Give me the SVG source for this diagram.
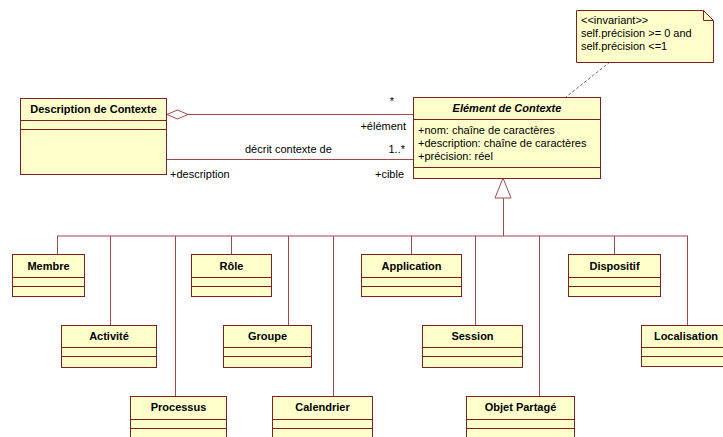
<svg xmlns="http://www.w3.org/2000/svg" width="723" height="437" viewBox="0 0 723 437">
<style>
.box{fill:#FFFFCB;stroke:#7F1F1F;stroke-width:1}
.sep{stroke:#7F1F1F;stroke-width:1}
.ln{fill:none;stroke:#A04848;stroke-width:1}
.t{font-family:"Liberation Sans",Arial,sans-serif;font-size:11px;fill:#000}
.b{font-family:"Liberation Sans",Arial,sans-serif;font-size:11px;font-weight:bold;fill:#000;text-anchor:middle}
.bi{font-style:italic}
.r{text-anchor:end}
</style>
<rect width="723" height="437" fill="#fff"/>
<g id="connectors">
<line class="ln" x1="188" y1="114.5" x2="413" y2="114.5"/>
<polygon points="167,114.5 177.5,110 188,114.5 177.5,119" fill="#fff" stroke="#A04848"/>
<line class="ln" x1="167" y1="159.5" x2="413" y2="159.5"/>
<line x1="610" y1="62" x2="566" y2="97" stroke="#6E6E6E" stroke-dasharray="3,2"/>
<polygon points="503,178 495,198 511,198" fill="#fff" stroke="#A04848"/>
<line class="ln" x1="503.5" y1="198" x2="503.5" y2="236"/>
<line class="ln" x1="57" y1="236" x2="688" y2="236"/>
<path class="ln" d="M57.5,236V254 M110.5,236V325 M175.5,236V396 M231.5,236V254 M288.5,236V325 M333.5,236V396 M411.5,236V254 M475.5,236V325 M539.5,236V396 M614.5,236V254 M687.5,236V325"/>
<text class="t" x="392" y="105" text-anchor="middle">*</text>
<text class="t r" x="406" y="130">+élément</text>
<text class="t" x="245" y="153">décrit contexte de</text>
<text class="t r" x="405" y="153">1..*</text>
<text class="t" x="170" y="178">+description</text>
<text class="t r" x="404" y="178">+cible</text>
</g>
<g id="note">
<path d="M576.5,10.5H703.5L713.5,20.5V62.5H576.5Z" class="box"/>
<path d="M703.5,10.5V20.5H713.5" fill="none" class="sep"/>
<text class="t" x="581" y="24">&lt;&lt;invariant&gt;&gt;</text>
<text class="t" x="581" y="37">self.précision &gt;= 0 and</text>
<text class="t" x="581" y="50">self.précision &lt;=1</text>
</g>
<g id="description-de-contexte">
<rect class="box" x="20.5" y="98.5" width="146" height="76"/>
<path class="sep" d="M20.5,120.5H166.5M20.5,129.5H166.5"/>
<text class="b" x="93.5" y="113">Description de Contexte</text>
</g>
<g id="element-de-contexte">
<rect class="box" x="413.5" y="97.5" width="187" height="81"/>
<path class="sep" d="M413.5,119.5H600.5M413.5,167.5H600.5"/>
<text class="b bi" x="507" y="112">Elément de Contexte</text>
<text class="t" x="418" y="134">+nom: chaîne de caractères</text>
<text class="t" x="418" y="147">+description: chaîne de caractères</text>
<text class="t" x="418" y="160">+précision: réel</text>
</g>
<g id="membre"><rect class="box" x="12.5" y="254.5" width="72" height="42"/><path class="sep" d="M12.5,277.5H84.5M12.5,286.5H84.5"/><text class="b" x="48.5" y="270">Membre</text></g>
<g id="role"><rect class="box" x="191.5" y="254.5" width="80" height="42"/><path class="sep" d="M191.5,277.5H271.5M191.5,286.5H271.5"/><text class="b" x="231.5" y="270">Rôle</text></g>
<g id="application"><rect class="box" x="361.5" y="254.5" width="100" height="42"/><path class="sep" d="M361.5,277.5H461.5M361.5,286.5H461.5"/><text class="b" x="411.5" y="270">Application</text></g>
<g id="dispositif"><rect class="box" x="568.5" y="254.5" width="92" height="42"/><path class="sep" d="M568.5,277.5H660.5M568.5,286.5H660.5"/><text class="b" x="614.5" y="270">Dispositif</text></g>
<g id="activite"><rect class="box" x="61.5" y="325.5" width="95" height="42"/><path class="sep" d="M61.5,347.5H156.5M61.5,356.5H156.5"/><text class="b" x="109" y="340">Activité</text></g>
<g id="groupe"><rect class="box" x="223.5" y="325.5" width="88" height="42"/><path class="sep" d="M223.5,347.5H311.5M223.5,356.5H311.5"/><text class="b" x="267.5" y="340">Groupe</text></g>
<g id="session"><rect class="box" x="422.5" y="325.5" width="100" height="42"/><path class="sep" d="M422.5,347.5H522.5M422.5,356.5H522.5"/><text class="b" x="472.5" y="340">Session</text></g>
<g id="localisation"><rect class="box" x="641.5" y="325.5" width="90" height="41"/><path class="sep" d="M641.5,347.5H731.5M641.5,356.5H731.5"/><text class="b" x="686" y="340">Localisation</text></g>
<g id="processus"><rect class="box" x="130.5" y="396.5" width="96" height="42"/><path class="sep" d="M130.5,419.5H226.5M130.5,428.5H226.5"/><text class="b" x="178.5" y="411">Processus</text></g>
<g id="calendrier"><rect class="box" x="272.5" y="396.5" width="100" height="42"/><path class="sep" d="M272.5,419.5H372.5M272.5,428.5H372.5"/><text class="b" x="322.5" y="411">Calendrier</text></g>
<g id="objet-partage"><rect class="box" x="466.5" y="396.5" width="108" height="42"/><path class="sep" d="M466.5,419.5H574.5M466.5,428.5H574.5"/><text class="b" x="520.5" y="411">Objet Partagé</text></g>
</svg>
